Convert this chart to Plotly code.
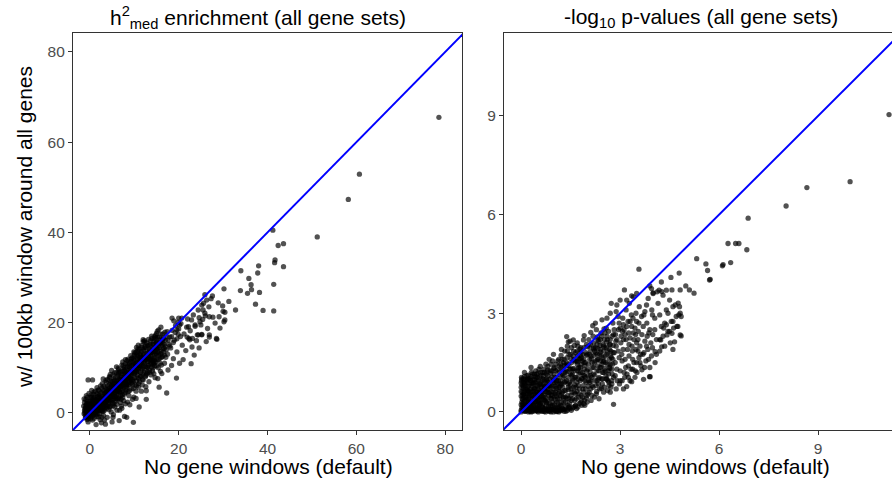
import plotly.graph_objects as go

# ---------------- data ----------------
# Left panel: h2med enrichment, (no gene windows, w/ 100kb window)
enrich_pairs = [
    (78.6, 65.5), (60.7, 52.9), (58.2, 47.3), (51.2, 39.0), (41.2, 40.5), (42.4, 37.1), (43.6, 37.5),
    (41.7, 33.9), (41.6, 33.3), (43.6, 32.4), (38.0, 32.6), (34.0, 31.5), (35.8, 29.8), (37.8, 31.0),
    (36.3, 28.4), (33.9, 27.1), (35.5, 26.5), (36.4, 27.3), (38.2, 26.7), (41.4, 28.5), (37.3, 24.1),
    (39.0, 22.7), (41.4, 22.6), (30.2, 27.5), (32.8, 22.8), (31.3, 24.7), (29.9, 23.7), (30.4, 22.3),
    (30.2, 20.2), (28.6, 16.3), (29.3, 18.8), (27.6, 25.9), (27.7, 21.2), (27.3, 25.3), (28.9, 24.4),
    (30.0, 22.5), (29.1, 21.3), (30.4, 20.6), (28.2, 19.9), (26.9, 17.3), (26.9, 21.3), (25.5, 22.8),
    (25.2, 23.9), (26.3, 25.0), (25.9, 22.1), (24.4, 17.3), (25.2, 17.3), (26.9, 16.8), (23.7, 19.5),
    (22.9, 20.6), (22.2, 19.1), (22.5, 16.2), (23.1, 16.5), (21.9, 16.8), (19.6, 18.4), (20.7, 21.0),
    (20.2, 19.5), (19.9, 20.1), (28.5, 16.5), (24.6, 21.1), (25.4, 20.7),
    (-1.2, 0.5), (-0.8, 1.8), (-1.0, -0.6), (-0.5, 2.6), (-0.3, -1.2), (0.0, 0.3), (-0.6, 0.9),
    (-1.4, 1.5), (0.2, -0.4), (-0.2, 1.2), (0.4, 2.0), (-0.9, 2.9), (0.1, 3.4), (-0.4, -2.0),
    (0.6, -1.6), (0.3, 0.8), (-1.1, 0.0), (0.5, 1.5), (-0.7, -0.2), (0.8, 0.1),
    (1.0, 1.0), (1.2, 2.4), (1.5, -0.8), (1.8, 0.6), (1.1, 3.5), (2.0, 1.8), (2.3, -1.5), (1.6, 4.2),
    (2.5, 2.9), (2.8, 0.4), (2.1, 3.8), (2.6, -2.2), (3.0, 1.4), (1.4, -2.6), (2.9, 4.6), (3.2, 2.6),
    (1.9, 5.1), (2.4, 0.9), (3.4, 3.8), (0.9, 4.6), (2.7, 5.5), (3.1, -0.6), (1.7, 1.5), (2.2, -0.2),
    (3.3, 0.6),
    (3.6, 3.0), (3.8, 5.1), (4.0, 1.5), (4.2, 4.2), (4.4, 6.3), (4.6, 2.6), (4.8, 0.2), (5.0, 5.4),
    (5.2, 3.6), (5.4, 7.4), (5.6, 1.3), (5.8, 4.8), (6.0, 6.5), (3.9, -1.0), (4.5, 7.8), (5.1, 2.2),
    (5.5, 5.9), (4.1, 3.3), (4.9, 4.6), (5.9, 3.1), (3.7, 6.8), (6.2, 8.1), (5.3, -0.4), (4.3, 0.7),
    (6.1, 1.9),
    (6.4, 5.2), (6.6, 3.4), (6.8, 7.3), (7.0, 4.5), (7.2, 8.6), (7.4, 6.0), (7.6, 2.7), (7.8, 9.3),
    (8.0, 7.0), (8.2, 5.1), (8.4, 10.2), (8.6, 8.0), (8.8, 3.8), (9.0, 9.0), (6.5, 9.6), (7.1, 1.5),
    (7.7, 7.7), (8.3, 6.3), (8.9, 11.1), (6.9, 5.9), (7.3, 4.0), (8.1, 8.8), (6.3, 6.9), (8.7, 6.8),
    (7.5, 10.4), (9.2, 7.5), (6.7, 0.6), (8.5, 2.4),
    (9.4, 10.4), (9.6, 6.4), (9.8, 12.0), (10.0, 8.7), (10.2, 10.9), (10.4, 4.8), (10.6, 9.6),
    (10.8, 12.6), (11.0, 7.6), (11.2, 11.4), (11.4, 9.0), (11.6, 13.5), (11.8, 6.2), (12.0, 10.6),
    (9.5, 8.3), (10.1, 13.3), (10.9, 5.7), (11.5, 12.1), (9.9, 3.5), (11.1, 14.1), (10.5, 7.1),
    (11.9, 8.5), (9.3, 11.9), (10.7, 11.3), (12.1, 12.9),
    (12.3, 11.7), (12.5, 8.0), (12.7, 14.4), (12.9, 10.1), (13.1, 12.6), (13.3, 6.9), (13.5, 15.2),
    (13.7, 11.0), (13.9, 13.4), (14.1, 9.3), (14.3, 15.9), (14.5, 12.3), (14.7, 7.8), (14.9, 14.7),
    (12.4, 15.6), (13.0, 9.0), (13.6, 13.0), (14.2, 11.3), (14.8, 16.6), (12.6, 5.8), (13.8, 8.4),
    (12.0, 16.2), (14.6, 10.4), (13.4, 14.2), (15.0, 12.8),
    (15.2, 14.3), (15.4, 10.0), (15.6, 16.8), (15.8, 12.1), (16.0, 15.5), (16.2, 8.7), (16.4, 17.5),
    (16.6, 13.5), (16.8, 11.0), (17.0, 16.1), (17.2, 14.0), (17.4, 18.0), (17.6, 9.5), (17.8, 15.2),
    (15.5, 18.4), (16.3, 12.5), (17.1, 12.3), (16.9, 17.9), (15.9, 9.2), (17.5, 13.0), (18.0, 16.8),
    (15.3, 7.6),
    (18.2, 14.4), (18.5, 18.3), (18.8, 12.0), (19.0, 16.1), (19.3, 19.4), (19.6, 13.5), (19.9, 17.4),
    (20.2, 11.0), (20.5, 19.8), (20.8, 15.0), (21.2, 17.5), (21.6, 13.8), (22.0, 20.8), (18.4, 10.5),
    (19.5, 7.7), (20.0, 21.0), (21.0, 11.8), (22.3, 16.5), (18.9, 20.4), (21.8, 19.0),
    (22.6, 18.2), (23.0, 14.6), (23.3, 21.7), (23.7, 19.2), (24.0, 16.0), (24.4, 22.8), (24.8, 20.2),
    (25.2, 17.4), (25.6, 24.3), (26.0, 21.5), (26.5, 18.7), (23.5, 12.8), (24.6, 14.4), (25.9, 26.2),
    (26.8, 23.5), (22.8, 10.9), (24.2, 17.3), (25.0, 19.5), (26.2, 15.8),
    (9.8, -2.1), (11.1, 1.3), (17.3, 4.4), (6.6, -1.7), (7.8, -0.8), (3.5, -2.5), (5.0, -2.0),
    (12.7, 3.0), (15.6, 5.7), (8.3, -1.0),
    (-0.4, 7.3), (0.6, 7.3), (4.9, 9.4), (12.0, 15.8), (14.6, 16.9), (10.5, 14.5), (8.0, 11.8),
    (6.0, 10.2), (3.0, 7.5), (16.0, 19.0), (18.5, 21.0),
]

enrich_core_pairs = [
    (-1.3, -0.2), (-1.0, 1.1), (-0.9, 0.4), (-0.7, 2.1), (-0.5, -0.7), (-0.4, 0.6), (-0.2, 1.9),
    (-0.1, -0.3), (0.0, 1.4), (0.1, 2.6), (0.2, 0.7), (0.3, -0.9), (0.4, 1.0), (0.5, 3.0), (0.6, 0.3),
    (0.7, 1.9), (0.8, -0.5), (0.9, 2.3), (1.0, 0.5), (1.1, 1.6), (-1.2, 2.3), (-0.6, 3.4), (0.3, 4.0),
    (-0.3, 0.0), (0.6, 2.6), (1.0, -1.2), (-0.8, -1.0), (0.9, 3.3),
    (1.2, 0.9), (1.3, 3.0), (1.4, 1.9), (1.5, 0.3), (1.6, 2.8), (1.7, 3.6), (1.8, 1.2), (1.9, 2.4),
    (2.0, 4.1), (2.1, 0.8), (2.2, 2.0), (2.3, 3.3), (2.4, 1.5), (2.5, 4.4), (2.6, 0.5), (2.7, 2.6),
    (2.8, 3.6), (2.9, 1.8), (3.0, 5.0), (3.1, 3.1), (3.2, 1.0), (3.3, 4.3), (3.4, 2.4), (3.5, 5.6),
    (3.6, 1.7), (3.7, 3.8), (3.8, 2.7), (3.9, 4.6), (4.0, 6.0), (1.3, -0.3), (2.0, -0.9), (2.7, -1.0),
    (3.3, -1.6), (1.1, 2.0), (1.9, 3.2), (2.6, 1.9), (3.6, 4.4), (0.4, 5.0),
    (4.1, 5.2), (4.2, 2.3), (4.3, 4.9), (4.4, 3.5), (4.5, 5.6), (4.6, 4.1), (4.7, 6.7), (4.8, 3.0),
    (4.9, 5.8), (5.0, 4.1), (5.1, 6.9), (5.2, 1.6), (5.3, 4.9), (5.4, 3.1), (5.5, 6.4), (5.6, 4.2),
    (5.7, 7.8), (5.8, 2.6), (5.9, 5.6), (6.0, 3.9), (6.1, 7.1), (6.2, 4.8), (6.3, 5.9), (6.4, 8.6),
    (6.5, 3.2), (6.6, 6.3), (6.7, 4.6), (6.8, 8.0), (6.9, 2.3), (7.0, 6.7), (4.4, 1.3), (5.2, -1.0),
    (6.1, 0.6), (4.6, 8.5), (5.6, 8.9), (6.6, 9.1), (7.0, 3.0), (5.0, 6.2), (6.0, 5.2),
    (7.1, 7.9), (7.2, 5.3), (7.3, 9.2), (7.4, 3.4), (7.5, 7.1), (7.6, 5.5), (7.7, 10.0), (7.8, 6.4),
    (7.9, 8.4), (8.0, 4.5), (8.1, 9.7), (8.2, 7.4), (8.3, 5.6), (8.4, 8.9), (8.5, 10.8), (8.6, 6.1),
    (8.7, 9.4), (8.8, 7.2), (8.9, 4.9), (9.0, 10.1), (9.1, 8.2), (9.2, 11.4), (9.3, 6.6), (9.4, 9.1),
    (9.5, 12.2), (9.6, 7.4), (9.7, 10.5), (9.8, 5.4), (9.9, 9.6), (10.0, 11.7), (7.2, 1.0), (8.0, 2.0),
    (9.0, 1.8), (9.6, 3.0), (7.4, 11.3), (8.6, 11.9), (9.9, 13.5),
    (10.1, 7.8), (10.2, 12.4), (10.3, 9.3), (10.4, 11.0), (10.5, 6.0), (10.6, 12.9), (10.7, 8.4),
    (10.8, 10.4), (10.9, 13.7), (11.0, 9.2), (11.1, 11.8), (11.2, 6.9), (11.3, 10.1), (11.4, 13.0),
    (11.5, 8.1), (11.6, 11.1), (11.7, 14.5), (11.8, 9.7), (11.9, 12.3), (12.0, 7.3), (12.1, 11.2),
    (12.2, 13.8), (12.3, 9.5), (12.4, 12.2), (12.5, 14.8), (12.6, 10.3), (12.7, 12.0), (12.8, 8.6),
    (12.9, 13.3), (13.0, 11.3), (10.4, 3.2), (11.6, 4.8), (12.7, 4.9), (10.9, 15.0), (12.3, 16.0),
    (13.1, 14.9), (13.2, 10.5), (13.3, 12.8), (13.4, 9.4), (13.5, 13.8), (13.6, 11.8), (13.7, 16.0),
    (13.8, 12.4), (13.9, 10.2), (14.0, 14.1), (14.1, 12.0), (14.2, 15.2), (14.3, 10.9), (14.4, 13.5),
    (14.5, 16.4), (14.6, 12.9), (14.7, 14.6), (14.8, 11.4), (14.9, 13.2), (15.0, 15.6), (15.1, 11.9),
    (15.2, 16.7), (15.3, 13.6), (15.4, 14.8), (15.6, 12.8), (15.8, 16.2), (16.0, 13.1), (16.2, 15.0),
    (16.4, 14.2), (16.6, 16.6), (16.8, 12.8), (17.0, 14.6), (13.9, 17.0), (15.0, 17.6), (14.4, 8.7),
    (16.1, 10.6),
    (-1.1, 0.8), (-0.9, 1.5), (-0.7, 0.2), (-0.5, 1.3), (-0.3, 2.2), (-0.1, 0.7), (0.1, 1.7),
    (0.3, 0.1), (0.5, 2.3), (0.7, 1.1), (0.9, -0.2), (1.1, 2.8), (1.3, 1.4), (1.5, 2.1), (1.7, 0.4),
    (1.9, 1.7), (2.1, 2.7), (2.3, 1.0), (2.5, 2.2), (2.7, 3.3), (2.9, 2.4), (3.1, 1.9), (3.3, 3.4),
    (3.5, 2.2), (3.7, 4.6), (3.9, 3.0), (4.1, 4.0), (4.3, 2.9), (4.5, 4.8), (4.7, 3.6), (4.9, 5.1),
    (5.1, 4.4), (5.3, 5.8), (5.5, 3.7), (5.7, 5.2), (5.9, 6.6), (6.1, 4.4), (6.3, 6.3), (6.5, 5.5),
    (6.7, 7.5), (6.9, 6.6), (7.1, 5.9), (7.3, 7.4), (7.5, 6.4), (7.7, 8.6), (7.9, 7.0), (8.1, 6.3),
    (8.3, 8.1), (8.5, 7.3), (8.7, 8.5), (8.9, 7.8), (9.1, 9.5), (9.3, 8.6), (9.5, 7.2), (9.7, 9.0),
    (9.9, 10.8), (10.1, 8.9), (10.3, 10.2), (10.5, 9.0), (10.7, 11.9), (10.9, 9.9), (11.1, 10.5),
    (11.3, 12.3), (11.5, 10.4), (11.7, 11.7), (11.9, 10.1), (12.1, 12.6), (12.3, 10.9), (12.5, 11.8),
    (12.7, 13.1), (12.9, 11.9), (13.1, 11.4), (13.3, 13.4), (13.5, 12.0), (13.7, 13.4), (13.9, 11.7),
    (14.1, 13.5), (14.3, 14.2), (14.5, 11.7), (14.7, 13.7), (14.9, 15.5), (15.1, 14.1), (15.3, 15.6),
    (15.5, 13.3), (15.7, 14.5), (15.9, 15.6), (16.1, 13.7), (16.3, 16.1), (16.5, 15.3), (16.7, 14.3),
    (-1.0, -1.1), (-0.6, -1.5), (-0.2, -0.8), (0.2, -1.3), (0.6, -0.6), (1.0, -0.1), (1.4, 0.6),
    (1.8, -0.3), (2.2, 0.6), (2.6, 1.2), (3.0, 0.3), (3.4, 1.2), (3.8, 1.0), (4.2, 1.9), (4.6, 1.4),
    (5.0, 2.8), (5.4, 2.0), (5.8, 3.6), (6.2, 3.0), (6.6, 4.8), (7.0, 3.8), (7.4, 4.9), (7.8, 4.2),
    (8.2, 5.9), (8.6, 4.7), (9.0, 6.3), (9.4, 5.3), (9.8, 7.0), (10.2, 6.2), (10.6, 7.8), (11.0, 6.5),
    (11.4, 8.1), (11.8, 7.4), (12.2, 9.0), (12.6, 8.3), (13.0, 10.1), (13.4, 9.0), (13.8, 10.8),
    (14.2, 9.9), (14.6, 11.1), (15.0, 10.4), (15.4, 11.8), (15.8, 11.0), (16.2, 12.3),
    (-1.3, 3.1), (-0.8, 3.8), (-0.2, 4.3), (0.4, 3.5), (0.8, 4.1), (1.2, 4.8), (1.6, 5.6), (2.0, 5.0),
    (2.4, 6.0), (2.8, 6.5), (3.2, 5.9), (3.6, 7.2), (4.0, 7.4), (4.4, 8.0), (4.8, 7.0), (5.2, 8.4),
    (5.6, 7.2), (6.0, 8.9), (6.4, 9.9), (6.8, 9.0), (7.2, 10.6), (7.6, 9.6), (8.0, 10.9), (8.4, 11.6),
    (8.8, 10.4), (9.2, 12.7), (9.6, 11.3), (10.0, 12.8), (10.4, 13.4), (10.8, 14.1), (11.2, 13.0),
    (11.6, 14.9), (12.0, 14.0), (12.4, 14.5), (12.8, 15.5), (13.2, 16.3), (13.6, 15.0), (14.0, 16.5),
    (14.4, 15.1), (14.8, 17.2), (15.2, 18.1), (15.6, 15.4), (16.0, 17.4), (16.4, 16.3), (16.8, 15.2),
    (17.2, 17.0), (17.6, 16.1), (18.0, 14.8), (18.4, 16.9), (18.8, 15.6), (19.2, 17.8), (19.6, 16.4),
    (20.0, 18.6), (20.4, 16.9),
]

# Right panel: -log10 p-values, (no gene windows, w/ 100kb window)
pval_pairs = [
    (11.15, 9.04), (9.97, 7.0), (8.66, 6.82), (8.03, 6.26), (6.88, 5.89), (6.27, 5.12), (6.5, 5.12),
    (6.6, 5.12), (6.84, 4.93), (5.32, 4.66), (5.6, 4.5), (6.1, 4.44), (6.12, 4.48), (6.35, 4.54),
    (5.65, 4.3), (5.71, 4.01), (5.73, 4.03), (3.57, 4.34), (4.79, 4.22), (4.54, 4.09), (4.99, 3.83),
    (5.24, 3.61), (5.1, 3.71), (3.13, 3.71), (3.35, 3.53), (3.9, 3.83), (4.0, 3.62), (4.26, 3.66),
    (4.57, 3.71), (4.82, 3.71), (4.76, 3.31), (4.67, 3.25), (4.82, 3.0), (4.85, 2.9), (4.6, 2.75),
    (4.72, 2.6), (4.85, 2.31), (4.57, 2.39), (4.42, 2.34), (4.23, 2.19), (4.26, 1.98), (4.06, 1.83),
    (3.91, 1.07), (3.71, 0.99), (3.35, 0.92), (3.2, 0.77), (2.8, 0.23),
    (0.0, 0.0), (0.05, 0.1), (0.1, 0.02), (0.15, 0.2), (0.2, 0.05), (0.25, 0.12), (0.3, 0.0),
    (0.35, 0.25), (0.4, 0.08), (0.45, 0.15), (0.5, 0.03), (0.55, 0.22), (0.6, 0.06), (0.65, 0.14),
    (0.7, 0.01), (0.75, 0.18), (0.8, 0.04), (0.85, 0.1), (0.9, 0.0), (0.95, 0.2), (1.0, 0.05),
    (1.05, 0.12), (1.1, 0.02), (1.15, 0.16), (1.2, 0.07), (0.02, 0.3), (0.08, 0.45), (0.03, 0.6),
    (0.0, 0.75), (0.06, 0.9), (0.01, 1.05), (0.04, 0.2), (0.12, 0.35), (0.18, 0.55), (0.22, 0.4),
    (0.28, 0.7), (0.32, 0.5), (0.38, 0.85), (0.42, 0.3), (0.48, 0.6), (0.52, 0.95), (0.58, 0.45),
    (0.62, 0.75), (0.68, 1.1), (0.72, 0.35), (0.78, 0.6), (0.82, 0.9), (0.88, 1.25), (0.92, 0.4),
    (0.98, 0.7), (1.02, 1.05), (1.08, 0.3), (1.12, 0.55), (1.18, 0.85), (0.14, 0.8), (0.24, 1.0),
    (0.34, 1.15), (0.44, 1.25), (0.54, 1.3), (0.1, 1.2), (0.2, 0.65), (0.3, 0.32), (0.4, 0.55),
    (0.5, 0.42), (0.6, 0.28), (0.7, 0.52), (0.8, 0.33), (0.9, 0.62), (1.0, 0.45), (0.16, 0.05),
    (0.26, 0.02), (0.36, 0.1), (0.46, 0.04), (0.56, 0.11), (0.66, 0.03), (0.76, 0.09), (0.86, 0.02),
    (0.96, 0.08), (1.06, 0.01), (1.16, 0.04), (1.25, 0.1), (1.3, 0.02), (1.35, 0.15), (0.07, 0.55),
    (0.13, 0.15), (0.17, 0.38), (0.27, 0.85), (0.37, 0.62), (0.47, 0.8), (0.57, 0.65), (0.67, 0.85),
    (0.77, 1.0), (0.87, 0.78), (0.97, 0.95), (1.07, 0.72), (1.17, 0.62), (0.58, 1.38), (0.75, 1.45),
    (0.95, 1.55), (0.98, 1.75), (0.85, 1.6), (0.3, 1.35), (0.45, 1.05), (0.65, 1.2), (1.15, 1.4),
    (1.05, 1.25), (0.12, 0.87),
    (1.22, 0.3), (1.26, 0.75), (1.3, 1.1), (1.34, 0.45), (1.38, 1.5), (1.42, 0.2), (1.46, 0.9),
    (1.5, 1.3), (1.54, 0.6), (1.58, 1.7), (1.62, 0.35), (1.66, 1.05), (1.7, 1.45), (1.74, 0.8),
    (1.78, 1.9), (1.82, 0.5), (1.86, 1.2), (1.9, 1.6), (1.94, 0.95), (1.98, 2.05), (1.24, 1.6),
    (1.32, 1.85), (1.4, 2.0), (1.48, 2.15), (1.38, 2.29), (1.43, 2.13), (1.58, 2.19), (1.89, 2.19),
    (1.28, 0.08), (1.36, 0.02), (1.44, 0.12), (1.52, 0.05), (1.6, 0.15), (1.68, 0.1), (1.76, 0.25),
    (1.84, 0.2), (1.92, 0.35), (2.0, 0.3), (1.25, 1.3), (1.35, 0.65), (1.45, 1.4), (1.55, 0.95),
    (1.65, 1.8), (1.75, 1.15), (1.85, 1.55), (1.95, 0.7), (1.52, 1.95), (1.72, 2.0), (1.8, 1.35),
    (1.64, 0.55), (1.45, 0.4), (1.88, 0.8), (1.22, 1.9),
    (2.02, 1.3), (2.06, 0.6), (2.1, 1.85), (2.14, 1.05), (2.18, 2.3), (2.22, 0.45), (2.26, 1.55),
    (2.3, 2.05), (2.34, 0.85), (2.38, 1.75), (2.42, 2.4), (2.46, 1.2), (2.5, 0.6), (2.54, 1.95),
    (2.58, 2.55), (2.62, 1.45), (2.66, 0.9), (2.7, 2.2), (2.74, 1.65), (2.78, 2.7), (2.17, 2.62),
    (2.05, 2.2), (2.12, 0.35), (2.28, 2.5), (2.36, 0.4), (2.44, 1.0), (2.52, 2.2), (2.6, 1.0),
    (2.68, 1.9), (2.76, 1.15), (2.2, 1.35), (2.4, 1.55), (2.55, 1.7), (2.65, 2.45), (2.72, 0.75),
    (2.08, 1.6), (2.32, 1.4), (2.48, 2.05), (2.15, 0.8), (2.25, 2.7), (2.45, 2.8), (2.35, 2.15),
    (2.05, 0.95), (2.6, 2.85), (2.7, 3.0),
    (2.82, 1.8), (2.86, 2.35), (2.9, 1.3), (2.94, 2.9), (2.98, 0.85), (3.02, 2.1), (3.06, 1.55),
    (3.1, 2.65), (3.14, 1.05), (3.18, 3.1), (3.22, 1.9), (3.26, 2.4), (3.3, 0.95), (3.34, 2.95),
    (3.38, 1.6), (3.42, 2.2), (3.46, 1.25), (3.5, 2.75), (3.54, 1.85), (3.58, 3.2), (2.73, 3.3),
    (2.88, 3.05), (3.0, 3.4), (3.4, 3.5), (3.35, 2.6), (3.05, 1.75), (2.95, 2.5), (3.25, 1.4),
    (3.45, 1.05), (3.15, 2.35), (3.55, 2.45), (3.6, 1.5), (2.85, 1.1), (3.1, 0.7), (3.28, 3.3),
    (3.48, 3.0), (3.08, 2.85),
    (3.66, 1.28), (3.89, 1.07), (4.06, 1.5), (4.65, 2.13), (4.82, 2.34), (3.7, 2.6), (3.75, 3.05),
    (3.8, 2.0), (3.85, 3.45), (3.9, 2.5), (3.95, 1.7), (4.0, 3.6), (4.05, 2.85), (4.1, 2.2),
    (4.15, 3.3), (4.2, 1.85), (4.25, 2.6), (4.3, 3.55), (4.35, 2.0), (4.4, 3.1), (4.45, 2.45),
    (4.5, 3.4), (4.55, 2.75), (4.6, 1.9), (4.7, 2.9), (4.75, 2.6), (4.8, 3.2), (3.72, 1.8),
    (3.82, 2.3), (3.95, 3.75), (4.18, 3.7), (4.35, 2.7), (4.4, 3.7), (4.12, 3.65), (4.62, 2.55),
    (4.78, 2.95), (3.65, 2.9), (4.52, 2.1), (4.25, 3.95), (3.98, 2.95),
]

pval_core_pairs = [
    (0.33, 0.18), (0.43, 0.7), (0.53, 0.28), (0.63, 0.58), (0.73, 0.78), (0.83, 0.48), (0.93, 1.05),
    (1.03, 0.38), (1.13, 0.95), (1.23, 0.55), (1.33, 0.92), (1.43, 0.68), (1.53, 1.12), (1.63, 0.82),
    (1.73, 1.32), (1.83, 1.02), (1.93, 1.42), (2.03, 0.78), (2.13, 1.62), (2.23, 1.12), (2.33, 1.92),
    (2.43, 0.72), (2.53, 1.32), (2.63, 1.82), (0.39, 0.42), (0.49, 0.22), (0.59, 0.88), (0.69, 0.38),
    (0.79, 1.22), (0.89, 0.18), (0.99, 1.32), (1.09, 0.82), (1.19, 1.12), (1.29, 0.42), (1.39, 1.22),
    (1.49, 0.82), (1.59, 1.32), (1.69, 0.62), (1.79, 1.62), (1.89, 1.12), (1.99, 1.72), (2.09, 1.22),
    (2.19, 1.92), (2.29, 0.62), (2.39, 2.02), (2.49, 1.52), (2.59, 2.12), (2.69, 1.32), (2.79, 2.02),
    (0.23, 0.28), (0.29, 0.95), (0.19, 0.72), (0.09, 0.62), (0.05, 0.38), (0.11, 0.98), (0.21, 1.12),
    (0.41, 0.98), (0.51, 1.18), (0.71, 0.98), (0.81, 1.38), (1.11, 1.55), (1.21, 1.72), (1.31, 1.42),
    (1.51, 1.62), (1.61, 2.02), (1.71, 1.52), (1.81, 1.82), (1.91, 2.32), (2.01, 1.98), (2.11, 2.42),
    (2.21, 1.72), (2.31, 2.28), (2.41, 1.82), (2.51, 2.52), (2.57, 1.1), (2.67, 1.6), (2.77, 1.45),
    (2.87, 2.15), (2.97, 1.65), (3.07, 2.45), (3.17, 1.35), (3.27, 2.05), (3.37, 1.85), (3.47, 2.35),
    (3.57, 1.65),
    (0.02, 0.12), (0.04, 0.5), (0.06, 0.72), (0.08, 0.15), (0.1, 0.85), (0.12, 0.06), (0.14, 0.45),
    (0.16, 0.95), (0.18, 0.22), (0.2, 0.88), (0.22, 0.62), (0.24, 0.1), (0.26, 0.48), (0.28, 1.02),
    (0.3, 0.18), (0.32, 0.78), (0.34, 0.4), (0.36, 0.98), (0.38, 0.2), (0.4, 0.72), (0.42, 1.08),
    (0.44, 0.38), (0.46, 0.58), (0.48, 0.92), (0.5, 0.15), (0.52, 0.68), (0.54, 0.48), (0.56, 1.05),
    (0.58, 0.25), (0.6, 0.82), (0.01, 0.95), (0.03, 0.82), (0.05, 0.25), (0.07, 1.0), (0.09, 0.32),
    (0.11, 0.5), (0.13, 0.7), (0.15, 0.58), (0.17, 1.1), (0.19, 0.08), (0.21, 0.32), (0.23, 0.78),
    (0.25, 0.55), (0.27, 0.25), (0.29, 0.6), (0.31, 1.2), (0.33, 0.88), (0.35, 0.05), (0.37, 0.45),
    (0.39, 0.7), (0.41, 0.12), (0.43, 0.9), (0.45, 0.32), (0.47, 1.15), (0.49, 0.52), (0.51, 0.78),
    (0.53, 0.08), (0.55, 0.6), (0.57, 0.35), (0.59, 1.2),
    (0.61, 0.5), (0.63, 0.95), (0.65, 0.22), (0.67, 0.68), (0.69, 1.3), (0.71, 0.1), (0.73, 0.62),
    (0.75, 0.88), (0.77, 0.28), (0.79, 0.75), (0.81, 1.1), (0.83, 0.18), (0.85, 0.58), (0.87, 1.0),
    (0.89, 0.42), (0.91, 0.82), (0.93, 1.25), (0.95, 0.3), (0.97, 0.6), (0.99, 0.9), (1.01, 0.22),
    (1.03, 0.78), (1.05, 1.45), (1.07, 0.48), (1.09, 1.05), (1.11, 0.12), (1.13, 0.68), (1.15, 1.2),
    (1.17, 0.4), (1.19, 0.95), (1.21, 1.35), (1.23, 0.18), (1.25, 0.6), (1.27, 1.05), (1.29, 0.28),
    (0.64, 0.38), (0.7, 0.75), (0.76, 1.15), (0.82, 0.6), (0.88, 0.08), (0.94, 0.5), (1.0, 1.15),
    (1.06, 0.9), (1.12, 0.25), (1.18, 0.5), (1.24, 1.15), (0.66, 1.0), (0.74, 0.45), (0.84, 0.8),
    (0.9, 1.45), (1.04, 0.6), (1.14, 1.6), (1.2, 0.8), (1.28, 1.5),
    (1.31, 0.65), (1.33, 1.2), (1.35, 0.3), (1.37, 0.95), (1.39, 1.65), (1.41, 0.5), (1.43, 1.05),
    (1.45, 1.75), (1.47, 0.25), (1.49, 1.15), (1.51, 0.7), (1.53, 1.5), (1.55, 0.4), (1.57, 1.0),
    (1.59, 1.85), (1.61, 0.6), (1.63, 1.25), (1.65, 0.2), (1.67, 1.55), (1.69, 0.9), (1.71, 1.7),
    (1.73, 0.45), (1.75, 1.35), (1.77, 0.7), (1.79, 1.2), (1.81, 1.95), (1.83, 0.35), (1.85, 1.0),
    (1.87, 1.75), (1.89, 0.6), (1.91, 1.3), (1.93, 0.2), (1.95, 1.5), (1.97, 0.9), (1.99, 1.25),
    (1.36, 1.4), (1.46, 0.15), (1.56, 1.3), (1.66, 0.75), (1.76, 1.6), (1.86, 0.45), (1.96, 1.8),
    (1.42, 0.85), (1.52, 0.35), (1.62, 1.55), (1.72, 1.0), (1.82, 1.45), (1.92, 1.1), (1.4, 1.85),
    (1.7, 2.1),
    (2.02, 0.55), (2.04, 1.45), (2.06, 2.0), (2.08, 0.9), (2.1, 1.1), (2.12, 1.7), (2.14, 0.5),
    (2.16, 1.35), (2.18, 0.75), (2.2, 2.1), (2.22, 1.5), (2.24, 0.95), (2.26, 1.8), (2.28, 0.55),
    (2.3, 1.25), (2.32, 2.2), (2.34, 1.6), (2.36, 1.05), (2.38, 0.7), (2.4, 1.9), (2.42, 1.35),
    (2.44, 2.3), (2.46, 0.85), (2.48, 1.65), (2.5, 1.2), (2.52, 0.75), (2.54, 2.4), (2.56, 1.5),
    (2.58, 1.0), (2.6, 1.75), (2.62, 2.2), (2.64, 1.25), (2.66, 0.8), (2.68, 2.05), (2.7, 1.45),
    (2.72, 1.85), (2.74, 0.95), (2.76, 2.3), (2.78, 1.6), (2.8, 1.05), (2.1, 0.7), (2.3, 0.95),
    (2.5, 1.85), (2.7, 0.6), (2.25, 1.95), (2.45, 1.45), (2.65, 1.15), (2.35, 1.25),
    (2.82, 2.5), (2.85, 1.5), (2.88, 2.0), (2.91, 0.95), (2.94, 1.85), (2.97, 2.7), (3.0, 1.25),
    (3.03, 2.3), (3.06, 0.95), (3.09, 1.9), (3.12, 2.5), (3.15, 1.6), (3.18, 2.2), (3.21, 1.15),
    (3.24, 2.75), (3.27, 1.7), (3.3, 2.25), (3.33, 1.3), (3.36, 2.0), (3.39, 2.85), (3.42, 1.5),
    (3.45, 2.55), (3.48, 1.9), (3.51, 1.2), (3.54, 2.2), (3.57, 2.7), (3.6, 2.0), (3.63, 1.4),
    (3.66, 2.35), (3.69, 1.75), (3.72, 2.95), (3.75, 2.15), (3.78, 1.55), (3.81, 2.7), (3.84, 1.9),
    (3.87, 2.4), (3.9, 1.35), (3.93, 2.1), (3.96, 3.1), (3.99, 2.35), (2.9, 3.25), (3.2, 3.4),
    (3.5, 3.6), (3.8, 3.25), (4.05, 2.5), (4.2, 2.95), (4.3, 2.3), (4.45, 3.0), (4.6, 3.2),
    (4.4, 2.65),
    (0.03, 0.4), (0.07, 0.78), (0.11, 0.22), (0.15, 0.68), (0.19, 0.98), (0.23, 0.45), (0.27, 0.12),
    (0.31, 0.62), (0.35, 0.88), (0.39, 0.3), (0.43, 0.55), (0.47, 0.05), (0.51, 0.35), (0.55, 0.82),
    (0.59, 0.6), (0.63, 0.15), (0.67, 0.45), (0.71, 0.7), (0.75, 0.32), (0.79, 0.95), (0.83, 0.7),
    (0.87, 0.25), (0.91, 0.52), (0.95, 0.78), (0.99, 0.15), (1.03, 0.55), (1.07, 0.95), (1.11, 0.4),
    (1.15, 0.75), (1.19, 0.2), (1.23, 0.85), (1.27, 0.45), (1.31, 0.9), (1.35, 1.25), (1.39, 0.4),
    (1.43, 0.75), (1.47, 1.3), (1.51, 0.5), (1.55, 1.15), (1.59, 0.75), (1.63, 1.05), (1.67, 0.4),
    (1.71, 1.25), (1.75, 0.55), (1.79, 0.95), (1.83, 1.65), (1.87, 0.7), (1.91, 1.5), (1.95, 1.05),
    (1.99, 0.5), (2.03, 1.1), (2.07, 1.75), (2.11, 0.95), (2.15, 1.5), (2.19, 1.15), (2.23, 1.85),
    (2.27, 0.8), (2.31, 1.6), (2.35, 1.0), (2.39, 1.35), (2.43, 1.7), (2.47, 1.0), (2.51, 1.55),
    (2.55, 1.25), (2.59, 1.95), (2.63, 0.95), (2.67, 1.35), (2.71, 1.7), (2.75, 1.3), (2.79, 1.8),
    (0.0, 0.05), (0.0, 0.22), (0.0, 0.48), (0.0, 0.62), (0.0, 0.88), (0.02, 1.0), (0.08, 0.05),
    (0.14, 0.02), (0.22, 0.0), (0.28, 0.06), (0.34, 0.01), (0.42, 0.03), (0.48, 0.09), (0.52, 0.0),
    (0.58, 0.05), (0.62, 0.02), (0.68, 0.08), (0.74, 0.0), (0.78, 0.06), (0.84, 0.03), (0.92, 0.07),
    (0.98, 0.0), (1.04, 0.05), (1.1, 0.09), (1.14, 0.0), (1.22, 0.04), (1.32, 0.08), (1.4, 0.05),
    (1.48, 0.1), (1.56, 0.12), (1.64, 0.18), (1.72, 0.15), (1.8, 0.28), (1.9, 0.25), (1.98, 0.42),
    (0.1, 1.08), (0.2, 1.0), (0.3, 1.08), (0.4, 1.15), (0.5, 1.05), (0.6, 1.1), (0.7, 1.2),
    (0.8, 1.28), (0.9, 1.18), (1.0, 1.35), (1.1, 1.28), (1.2, 1.45), (1.3, 1.6), (1.4, 1.45),
    (1.5, 1.75), (1.6, 1.6), (1.7, 1.85), (1.8, 1.72), (1.9, 1.95), (2.0, 1.75), (2.1, 2.05),
    (2.2, 1.95), (2.3, 1.75), (2.4, 2.2), (2.5, 2.0), (2.6, 2.3), (2.7, 2.05), (2.8, 2.35),
    (2.9, 2.2), (3.0, 2.55), (3.1, 2.2), (3.2, 2.6), (3.3, 2.75), (3.4, 2.4), (3.5, 2.1),
    (2.62, 0.65), (2.75, 0.85), (2.88, 0.7), (3.0, 0.95), (3.12, 1.2), (3.25, 1.05), (3.38, 1.3),
    (3.5, 1.5), (3.62, 1.75), (3.74, 1.35), (3.86, 1.6), (3.98, 1.95), (4.1, 1.75), (4.2, 2.2),
    (4.32, 2.55), (4.5, 2.45),
]

enrich_ticks = [0, 20, 40, 60, 80]
pval_ticks = [0, 3, 6, 9]
enrich_range_x = [-3.8, 83.8]
enrich_range_y = [-3.8, 84.2]
pval_range_x = [-0.52, 11.24]
pval_range_y = [-0.55, 11.52]

titles = ["h<sup>2</sup><sub>med</sub> enrichment (all gene sets)",
          "-log<sub>10</sub> p-values (all gene sets)"]
x_title = "No gene windows (default)"
y_title = "w/ 100kb window around all genes"

# ---------------- figure ----------------
W, H = 892, 484
FONT = "Liberation Sans, Arial, Helvetica, sans-serif"

fig = go.Figure()

all_enrich = enrich_pairs + enrich_core_pairs
all_pval = pval_pairs + pval_core_pairs
ex = [p[0] for p in all_enrich]
ey = [p[1] for p in all_enrich]
px_ = [p[0] for p in all_pval]
py_ = [p[1] for p in all_pval]

marker = dict(size=5.3, color="rgba(0,0,0,0.68)", line=dict(width=0))
fig.add_trace(go.Scatter(x=ex, y=ey, mode="markers", marker=marker, xaxis="x", yaxis="y", showlegend=False))
fig.add_trace(go.Scatter(x=px_, y=py_, mode="markers", marker=marker, xaxis="x2", yaxis="y2", showlegend=False))

# identity lines y = x, spanning each panel's axis range
lo1, hi1 = min(enrich_range_x[0], enrich_range_y[0]) - 5, max(enrich_range_x[1], enrich_range_y[1]) + 5
lo2, hi2 = min(pval_range_x[0], pval_range_y[0]) - 1, max(pval_range_x[1], pval_range_y[1]) + 1
fig.add_trace(go.Scatter(x=[lo1, hi1], y=[lo1, hi1], mode="lines", line=dict(color="#0000FF", width=2),
                         xaxis="x", yaxis="y", showlegend=False))
fig.add_trace(go.Scatter(x=[lo2, hi2], y=[lo2, hi2], mode="lines", line=dict(color="#0000FF", width=2),
                         xaxis="x2", yaxis="y2", showlegend=False))

ydom = [(H - 430) / H, (H - 33) / H]
axis_common = dict(showgrid=False, zeroline=False, showline=True, mirror=True, linecolor="#333333",
                   linewidth=1.1, ticks="outside", ticklen=4, tickwidth=1, tickcolor="#333333",
                   tickfont=dict(family=FONT, size=15.5, color="#4D4D4D"))

fig.update_layout(
    width=W, height=H, margin=dict(l=0, r=0, t=0, b=0),
    paper_bgcolor="white", plot_bgcolor="white",
    font=dict(family=FONT, color="black"),
    xaxis=dict(domain=[73 / W, 462 / W], range=enrich_range_x, tickvals=enrich_ticks, anchor="y", **axis_common),
    yaxis=dict(domain=ydom, range=enrich_range_y, tickvals=enrich_ticks, anchor="x", **axis_common),
    xaxis2=dict(domain=[504 / W, 1.0], range=pval_range_x, tickvals=pval_ticks, anchor="y2", **axis_common),
    yaxis2=dict(domain=ydom, range=pval_range_y, tickvals=pval_ticks, anchor="x2", **axis_common),
)

TS = 21
ann = []
ann.append(dict(text=titles[0], x=258 / W, y=(H - 18) / H, xref="paper", yref="paper",
                showarrow=False, xanchor="center", yanchor="middle", font=dict(family=FONT, size=TS, color="black")))
ann.append(dict(text=titles[1], x=701 / W, y=(H - 18) / H, xref="paper", yref="paper",
                showarrow=False, xanchor="center", yanchor="middle", font=dict(family=FONT, size=TS, color="black")))
ann.append(dict(text=x_title, x=268 / W, y=(H - 466) / H, xref="paper", yref="paper",
                showarrow=False, xanchor="center", yanchor="middle", font=dict(family=FONT, size=TS, color="black")))
ann.append(dict(text=x_title, x=705 / W, y=(H - 466) / H, xref="paper", yref="paper",
                showarrow=False, xanchor="center", yanchor="middle", font=dict(family=FONT, size=TS, color="black")))
ann.append(dict(text=y_title, x=24 / W, y=(H - 227) / H, xref="paper", yref="paper", textangle=-90,
                showarrow=False, xanchor="center", yanchor="middle", font=dict(family=FONT, size=TS, color="black")))
fig.update_layout(annotations=ann)

fig.write_html("out.html")
